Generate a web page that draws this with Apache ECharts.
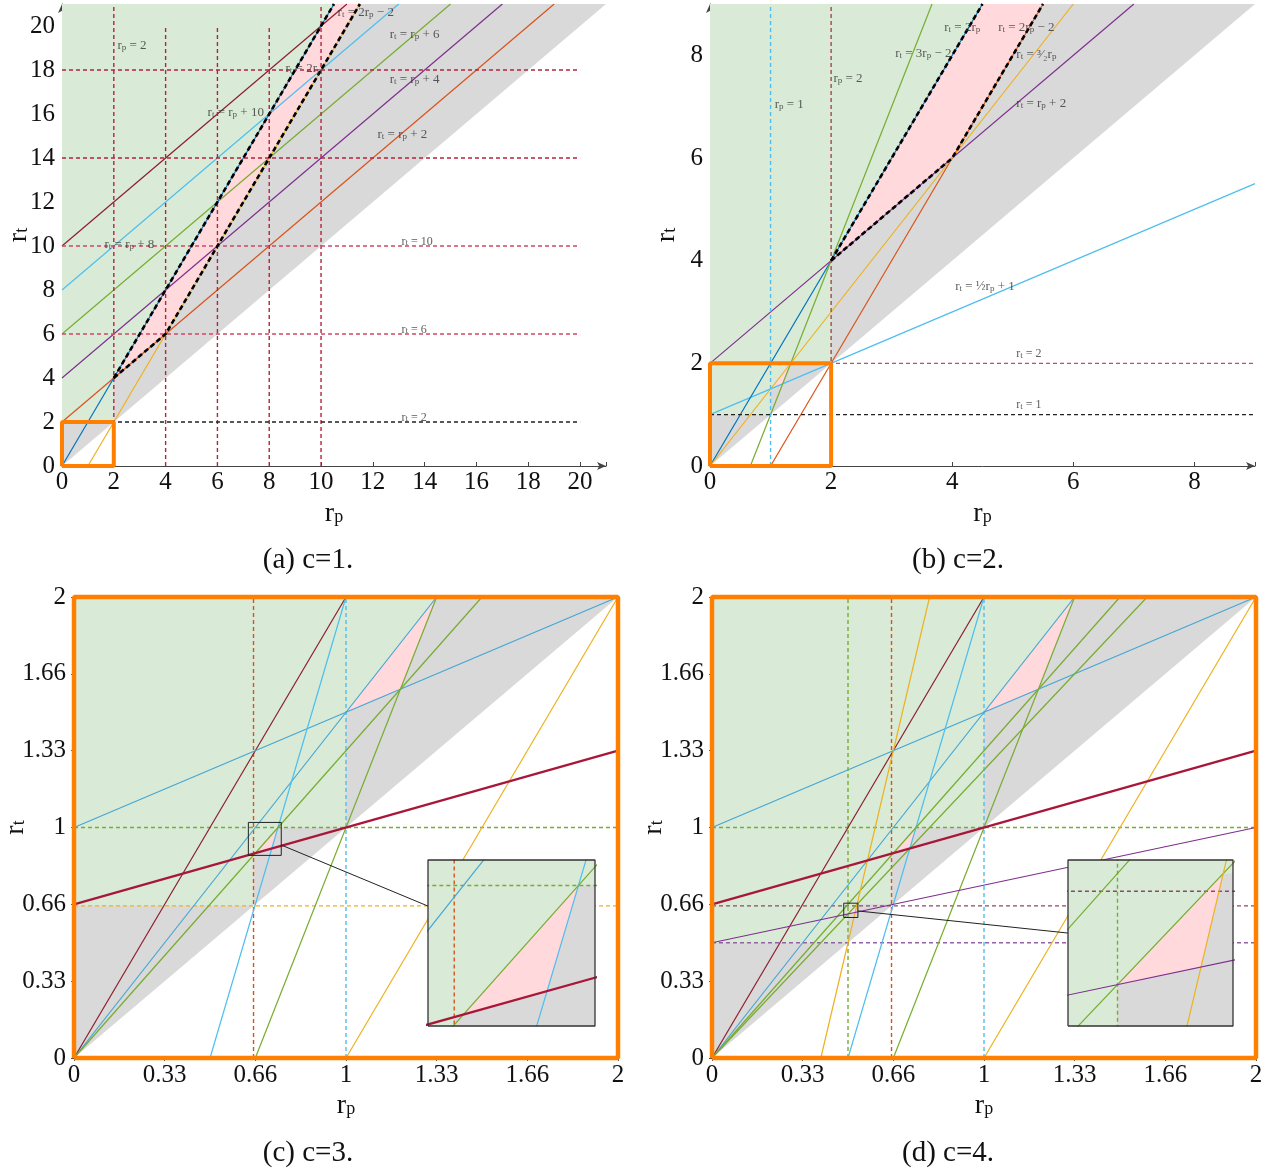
<!DOCTYPE html>
<html><head><meta charset="utf-8">
<script src="https://cdn.jsdelivr.net/npm/echarts@6/dist/echarts.min.js"></script>
<style>html,body{margin:0;padding:0;background:#fff}#c{width:1278px;height:1171px}</style>
</head><body><div id="c"></div>
<script>
// ================= DATA =================
// ---- panel (a) c = 1 ----
const a_ticks = [0,2,4,6,8,10,12,14,16,18,20];
const a_gray  = [[0,0],[21,21],[0,21]];
const a_green = [[0,2],[2,2],[2,4],[10.5,21],[0,21]];
const a_pink  = [[[2,4],[10.5,21],[11.5,21],[4,6]]];
const a_solid = [
  [[0,2],[19,21]],    // r_t = r_p + 2
  [[0,4],[17,21]],    // r_t = r_p + 4
  [[0,6],[15,21]],    // r_t = r_p + 6
  [[0,8],[13,21]],    // r_t = r_p + 8
  [[0,10],[11,21]],   // r_t = r_p + 10
  [[0,0],[10.5,21]],  // r_t = 2 r_p
  [[1,0],[11.5,21]]   // r_t = 2 r_p - 2
];
const a_dashed = [
  [[2,0],[2,21]],[[4,0],[4,20]],[[6,0],[6,20]],[[8,0],[8,20]],[[10,0],[10,21]],
  [[0,2],[20,2]],[[0,6],[20,6]],[[0,10],[20,10]],[[0,14],[20,14]],[[0,18],[20,18]]
];
const a_bound = [[[2,4],[10.5,21]], [[2,4],[4,6],[11.5,21]]];
const a_box = [[0,0],[2,0],[2,2],[0,2],[0,0]];
const a_labels = [
  [2.12,19.1,'r_p = 2'],[10.62,20.6,'r_t = 2r_p − 2'],[12.63,19.6,'r_t = r_p + 6'],
  [8.61,18.05,'r_t = 2r_p'],[12.63,17.55,'r_t = r_p + 4'],[5.6,16.05,'r_t = r_p + 10'],
  [12.16,15.05,'r_t = r_p + 2'],[1.62,10.05,'r_t = r_p + 8']
];
const a_hlabels = [[13.09,10.2,'r_t = 10'],[13.09,6.2,'r_t = 6'],[13.09,2.2,'r_t = 2']];

// ---- panel (b) c = 2 ----
const b_ticks = [0,2,4,6,8];
const b_gray  = [[0,0],[9,9],[0,9]];
const b_green = [[0,1],[1,1],[1,1.5],[4/3,2],[2,2],[2,4],[4.5,9],[0,9]];
const b_pink  = [[[2,4],[4.5,9],[5.5,9],[4,6]], [[1,1.5],[4/3,2],[1.2,1.6]]];
const b_solid = [
  [[0,1],[9,5.5]],     // r_t = r_p/2 + 1
  [[0,2],[7,9]],       // r_t = r_p + 2
  [[0,0],[4.5,9]],     // r_t = 2 r_p
  [[2/3,0],[11/3,9]],  // r_t = 3 r_p - 2
  [[1,0],[5.5,9]],     // r_t = 2 r_p - 2
  [[0,0],[6,9]]        // r_t = 3/2 r_p
];
const b_dashed = [[[1,0],[1,9]],[[2,0],[2,9]],[[0,2],[9,2]],[[0,1],[9,1]]];
const b_bound = [[[2,4],[4.5,9]], [[2,4],[4,6],[5.5,9]]];
const b_box = [[0,0],[2,0],[2,2],[0,2],[0,0]];
const b_labels = [
  [3.86,8.54,'r_t = 2r_p'],[4.75,8.54,'r_t = 2r_p − 2'],[3.05,8.03,'r_t = 3r_p − 2'],
  [5.05,8.01,'r_t = ³⁄₂r_p'],[2.03,7.54,'r_p = 2'],[1.06,7.04,'r_p = 1'],
  [5.05,7.06,'r_t = r_p + 2'],[4.04,3.49,'r_t = ½r_p + 1']
];
const b_hlabels = [[5.05,2.18,'r_t = 2'],[5.05,1.19,'r_t = 1']];

// ---- panels (c) c = 3 and (d) c = 4 ----
const cd_tickLabels = ['0','0.33','0.66','1','1.33','1.66','2'];
const c_gray  = [[0,0],[2,2],[0,2]];
const c_green = [[0,0.66],[0.66,0.66],[0.66,0.8867],[2/3,8/9],[0.75,1],[1,1],[1,1.5],[4/3,2],[0,2]];
const c_pink  = [[[2/3,8/9],[0.75,1],[8/11,10/11]], [[1,1.5],[4/3,2],[1.2,1.6]]];
const c_solid = [
  [[0,0],[1,2]],        // 2 r_p
  [[0,0],[4/3,2]],      // 3/2 r_p
  [[0,1],[2,2]],        // r_p/2 + 1
  [[0.5,0],[1,2]],      // 4 r_p - 2
  [[0,0],[1.5,2]],      // 4/3 r_p
  [[2/3,0],[4/3,2]],    // 3 r_p - 2
  [[1,0],[2,2]],        // 2 r_p - 2
  [[0,2/3],[2,4/3]]     // (r_p + 2)/3
];
const c_dashed = [[[0.66,0],[0.66,2]],[[1,0],[1,2]],[[0,1],[2,1]],[[0,0.66],[2,0.66]]];
const c_frame = [[0,0],[2,0],[2,2],[0,2],[0,0]];
const c_insetX = [0.641, 0.762], c_insetY = [0.879, 1.022];
const c_connector = [[0.762,0.924],[1.3015,0.659]];

const d_gray  = [[0,0],[2,2],[0,2]];
const d_green = [[0,0.5],[0.5,0.5],[0.5,0.625],[8/15,2/3],[0.66,2/3],[0.66,0.8867],[2/3,8/9],[0.75,1],[1,1],[1,1.5],[4/3,2],[0,2]];
const d_pink  = [[[0.5,0.625],[8/15,2/3],[10/19,12/19]], [[2/3,8/9],[0.75,1],[8/11,10/11]], [[1,1.5],[4/3,2],[1.2,1.6]]];
const d_solid = [
  [[0,0],[1,2]],        // 2 r_p
  [[0,0],[4/3,2]],      // 3/2 r_p
  [[0,1],[2,2]],        // r_p/2 + 1
  [[0.5,0],[1,2]],      // 4 r_p - 2
  [[0,0],[1.5,2]],      // 4/3 r_p
  [[0,0],[1.6,2]],      // 5/4 r_p
  [[2/3,0],[4/3,2]],    // 3 r_p - 2
  [[0.4,0],[0.8,2]],    // 5 r_p - 2
  [[1,0],[2,2]],        // 2 r_p - 2
  [[0,0.5],[2,1]],      // r_p/4 + 1/2
  [[0,2/3],[2,4/3]]     // (r_p + 2)/3
];
const d_dashed = [[[0.5,0],[0.5,2]],[[0.66,0],[0.66,2]],[[1,0],[1,2]],[[0,1],[2,1]],[[0,0.66],[2,0.66]],[[0,0.5],[2,0.5]]];
const d_frame = [[0,0],[2,0],[2,2],[0,2],[0,0]];
const d_insetX = [0.4844, 0.5364], d_insetY = [0.6095, 0.6717];
const d_connector = [[0.5364,0.638],[1.309,0.542]];

const captions = ['(a) c=1.','(b) c=2.','(c) c=3.','(d) c=4.'];

// ================= STYLE =================
const FONT = 'Liberation Serif';
const COL = {blue:'#0072bd', orange:'#d95319', gold:'#edb120', purple:'#7e2f8e', green:'#77ac30',
  cyan:'#4dbeee', sky:'#45a6d4', maroon:'#8c1d2d', crimson:'#a8173a', dred:'#b3243e', pred:'#cf4868',
  brown:'#a4484a', mauve:'#8c4a6c', lpurple:'#9461a8', black:'#1a1a1a'};
const FILL = {green:'#d9ebd7', gray:'#d9d9d9', pink:'#ffd9dc', orange:'#ff8000'};
const a_solidCol = [COL.orange, COL.purple, COL.green, COL.cyan, COL.maroon, COL.blue, COL.gold];
const a_dashCol = [COL.dred,COL.dred,COL.dred,COL.dred,COL.dred,'#222',COL.pred,COL.pred,COL.dred,COL.dred];
const b_solidCol = [COL.cyan, COL.purple, COL.blue, COL.green, COL.orange, COL.gold];
const b_dashCol = [COL.cyan, COL.brown, COL.pred, '#222'];
const c_solidCol = [COL.maroon, COL.sky, COL.sky, COL.cyan, COL.green, COL.green, COL.gold, COL.crimson];
const c_solidW = [1.2,1.2,1.2,1.2,1.2,1.2,1.2,2.2];
const c_dashCol = [COL.orange, COL.cyan, COL.green, COL.gold];
const d_solidCol = [COL.maroon, COL.sky, COL.sky, COL.cyan, COL.green, COL.green, COL.green, COL.gold, COL.gold, COL.purple, COL.crimson];
const d_solidW = [1.2,1.2,1.2,1.2,1.2,1.2,1.2,1.2,1.2,1.2,2.2];
const d_dashCol = [COL.green, COL.orange, COL.cyan, COL.green, COL.mauve, COL.lpurple];

// ================= HELPERS =================
function clipPoly(pts, x0, y0, x1, y1) {
  let out = pts;
  const planes = [[0,x0,1],[0,x1,-1],[1,y0,1],[1,y1,-1]];
  for (const [k,v,s] of planes) {
    const inp = out; out = [];
    for (let i = 0; i < inp.length; i++) {
      const a = inp[i], b = inp[(i+1) % inp.length];
      const ia = (a[k]-v)*s >= 0, ib = (b[k]-v)*s >= 0;
      if (ia) out.push(a);
      if (ia !== ib) { const t = (v-a[k])/(b[k]-a[k]); out.push([a[0]+t*(b[0]-a[0]), a[1]+t*(b[1]-a[1])]); }
    }
    if (!out.length) break;
  }
  return out;
}
function poly(gi, pts, fill, z) {
  return {type:'custom', xAxisIndex:gi, yAxisIndex:gi, z:z, silent:true, clip:false,
    encode:{x:0,y:1}, data:pts,
    renderItem:(params, api) => {
      if (params.dataIndex !== 0) return null;
      const cs = params.coordSys;
      const p = clipPoly(pts.map(q => api.coord(q)), cs.x, cs.y, cs.x+cs.width, cs.y+cs.height);
      if (p.length < 3) return null;
      return {type:'polygon', shape:{points:p}, style:{fill:fill, stroke:null}};
    }};
}
function line(gi, pts, color, width, type, z, clip) {
  return {type:'line', xAxisIndex:gi, yAxisIndex:gi, data:pts, symbol:'none', silent:true,
    clip: clip !== false, z:z, lineStyle:{color:color, width:width, type:type||'solid', cap:'butt'}};
}
function rich(s) {
  return s.split(/(_[a-z0-9]+)/).filter(x => x).map(t => t[0]==='_' ? '{s|'+t.slice(1)+'}' : '{i|'+t+'}').join('');
}
function labelSeries(gi, data, fs) {
  return {type:'scatter', xAxisIndex:gi, yAxisIndex:gi, data:data, symbolSize:1, silent:true, z:8,
    itemStyle:{color:'rgba(0,0,0,0)'},
    label:{show:true, position:'right', distance:0, formatter:p => rich(p.data[2]),
      rich:{i:{fontFamily:FONT, fontSize:fs, color:'#333', lineHeight:fs, verticalAlign:'top'},
            s:{fontFamily:FONT, fontSize:Math.round(fs*0.72), color:'#333', lineHeight:Math.round(fs*0.5), verticalAlign:'bottom'}}}};
}
const nameRich = {r:{fontFamily:FONT, fontSize:28, color:'#111', lineHeight:26, verticalAlign:'top'},
                  s:{fontFamily:FONT, fontSize:18, color:'#111', lineHeight:12, verticalAlign:'bottom'}};
function axisArrow(gi, max, ticks, name, gap, isY) {
  return {gridIndex:gi, type:'value', min:0, max:max, interval:2,
    name:name, nameLocation:'middle', nameGap:gap, nameMoveOverlap:false, nameTextStyle:{rich:nameRich},
    axisLine:{show:true, onZero:true, symbol:['none','arrow'], symbolSize:[6,9], lineStyle:{color:'#444', width:1}},
    axisTick:{show:true, inside:true, length:4, lineStyle:{color:'#444'}},
    axisLabel:{fontFamily:FONT, fontSize:25, color:'#111', margin:isY?7:4,
      formatter:v => ticks.indexOf(v) >= 0 ? String(v) : ''},
    splitLine:{show:false}};
}
function axisThird(gi, name, gap, isY) {
  return {gridIndex:gi, type:'value', min:0, max:2, interval:1/3,
    name:name, nameLocation:'middle', nameGap:gap, nameMoveOverlap:false, nameTextStyle:{rich:nameRich},
    axisLine:{show:true, lineStyle:{color:'#555'}},
    axisTick:{show:true, inside:false, length:3, lineStyle:{color:'#555'}},
    axisLabel:{fontFamily:FONT, fontSize:25, color:'#111', margin:isY?8:5,
      formatter:v => cd_tickLabels[Math.round(v*3)] || ''},
    splitLine:{show:false}};
}
function hidden(gi, r) { return {gridIndex:gi, type:'value', min:r[0], max:r[1], show:false}; }

// ================= BUILD =================
const gridBase = {containLabel:false, outerBoundsMode:'none'};
const grids = [
  {left:62, top:4, width:544, height:462},
  {left:710, top:4, width:545, height:462},
  {left:74, top:597, width:544, height:461},
  {left:712, top:597, width:544, height:461},
  {left:428, top:860, width:167, height:166},
  {left:1068, top:860, width:165, height:166}
].map(g => Object.assign({}, gridBase, g));
const xAxes = [
  axisArrow(0, 21, a_ticks, '{r|r}{s|p}', 34, false),
  axisArrow(1, 9, b_ticks, '{r|r}{s|p}', 34, false),
  axisThird(2, '{r|r}{s|p}', 34, false),
  axisThird(3, '{r|r}{s|p}', 34, false),
  hidden(4, c_insetX), hidden(5, d_insetX)
];
const yAxes = [
  axisArrow(0, 21, a_ticks, '{r|r}{s|t}', 31, true),
  axisArrow(1, 9, b_ticks, '{r|r}{s|t}', 31, true),
  axisThird(2, '{r|r}{s|t}', 46, true),
  axisThird(3, '{r|r}{s|t}', 46, true),
  hidden(4, c_insetY), hidden(5, d_insetY)
];
const S = [];
const DASH = [4,3];
// (a)
S.push(poly(0, a_gray, FILL.gray, 1), poly(0, a_green, FILL.green, 1));
a_pink.forEach(p => S.push(poly(0, p, FILL.pink, 1)));
a_solid.forEach((l,i) => S.push(line(0, l, a_solidCol[i], 1.2, 'solid', 3)));
a_dashed.forEach((l,i) => S.push(line(0, l, a_dashCol[i], 1.4, DASH, 4)));
a_bound.forEach(l => S.push(line(0, l, '#000', 2.6, [5,3], 5)));
S.push(line(0, a_box, FILL.orange, 4, 'solid', 6, false));
S.push(labelSeries(0, a_labels, 13), labelSeries(0, a_hlabels, 12));
// (b)
S.push(poly(1, b_gray, FILL.gray, 1), poly(1, b_green, FILL.green, 1));
b_pink.forEach(p => S.push(poly(1, p, FILL.pink, 1)));
b_solid.forEach((l,i) => S.push(line(1, l, b_solidCol[i], 1.2, 'solid', 3)));
b_dashed.forEach((l,i) => S.push(line(1, l, b_dashCol[i], 1.4, DASH, 4)));
b_bound.forEach(l => S.push(line(1, l, '#000', 2.6, [5,3], 5)));
S.push(line(1, b_box, FILL.orange, 4, 'solid', 6, false));
S.push(labelSeries(1, b_labels, 13), labelSeries(1, b_hlabels, 12));
// (c), (d) and their insets
function panelCD(gi, ii, gray, green, pinks, solid, solidCol, solidW, dashed, dashCol, frame, ix, iy, conn) {
  [[gi,0],[ii,10]].forEach(([g,zb]) => {
    S.push(poly(g, gray, FILL.gray, zb+1), poly(g, green, FILL.green, zb+1));
    pinks.forEach(p => S.push(poly(g, p, FILL.pink, zb+1)));
    dashed.forEach((l,i) => S.push(line(g, l, dashCol[i], 1.4, DASH, zb+2)));
    solid.forEach((l,i) => S.push(line(g, l, solidCol[i], solidW[i], 'solid', zb+3)));
  });
  const boxPts = [[ix[0],iy[0]],[ix[1],iy[0]],[ix[1],iy[1]],[ix[0],iy[1]],[ix[0],iy[0]]];
  S.push(line(gi, boxPts, '#222', 1, 'solid', 6, false));
  S.push(line(gi, conn, '#222', 1, 'solid', 6, false));
  S.push(line(ii, boxPts, '#333', 1.3, 'solid', 15, false));
  S.push(line(gi, frame, FILL.orange, 4.5, 'solid', 16, false));
}
panelCD(2, 4, c_gray, c_green, c_pink, c_solid, c_solidCol, c_solidW, c_dashed, c_dashCol, c_frame, c_insetX, c_insetY, c_connector);
panelCD(3, 5, d_gray, d_green, d_pink, d_solid, d_solidCol, d_solidW, d_dashed, d_dashCol, d_frame, d_insetX, d_insetY, d_connector);

const capPos = [[308,560],[958,560],[308,1153],[948,1153]];
const chart = echarts.init(document.getElementById('c'), null, {renderer:'canvas'});
chart.setOption({
  animation:false, backgroundColor:'#fff',
  grid:grids, xAxis:xAxes, yAxis:yAxes, series:S,
  graphic: captions.map((t,i) => ({type:'text', x:capPos[i][0], y:capPos[i][1], silent:true,
    style:{text:t, fontFamily:FONT, fontSize:29, fill:'#111', align:'center', verticalAlign:'middle'}}))
});
</script></body></html>
